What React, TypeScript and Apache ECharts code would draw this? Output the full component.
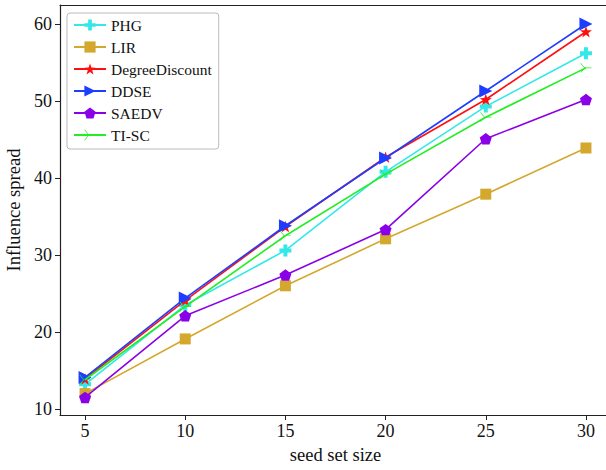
import React, { useEffect, useRef } from "react";
import * as echarts from "echarts";

const seedSizes = [5, 10, 15, 20, 25, 30];
const xTicks = [5, 10, 15, 20, 25, 30];
const yTicks = [10, 20, 30, 40, 50, 60];
const seriesNames = ["PHG", "LIR", "DegreeDiscount", "DDSE", "SAEDV", "TI-SC"];
const phg = [13.2, 23.5, 30.6, 40.8, 49.3, 56.2];
const lir = [12.0, 19.1, 26.0, 32.1, 37.9, 43.9];
const degreeDiscount = [13.9, 24.1, 33.7, 42.7, 50.2, 59.0];
const ddse = [14.1, 24.4, 33.8, 42.6, 51.3, 60.0];
const saedv = [11.5, 22.1, 27.4, 33.3, 45.1, 50.2];
const tisc = [13.8, 23.3, 32.5, 40.5, 47.9, 54.3];

const colors = ["#33e8e8", "#d4a82c", "#ff1010", "#1f3dff", "#8a00e8", "#22ee22"];

const SYM_PLUS = "path://M-1,-3L1,-3L1,-1L3,-1L3,1L1,1L1,3L-1,3L-1,1L-3,1L-3,-1L-1,-1Z";
const SYM_STAR =
  "path://M0,-10L2.35,-3.24L9.51,-3.09L3.8,1.24L5.88,8.09L0,4L-5.88,8.09L-3.8,1.24L-9.51,-3.09L-2.35,-3.24Z";
const SYM_TRI_RIGHT = "path://M0,0L10,5L0,10Z";
const SYM_PENTAGON = "path://M0,-10L9.51,-3.09L5.88,8.09L-5.88,8.09L-9.51,-3.09Z";
const SYM_TRI4 =
  "path://M-0.3,-0.4L8,-0.4L8,0.4L-0.3,0.4Z M0.3,0.3L-4.3,-4.9L-3.7,-5.5L0.6,-0.3Z M0.3,-0.3L-4.3,4.9L-3.7,5.5L0.6,0.3Z";

const symbols = [SYM_PLUS, "rect", SYM_STAR, SYM_TRI_RIGHT, SYM_PENTAGON, SYM_TRI4];
const symbolSizes = [12, 11, 12, 13, 12, 11];

export default function App() {
  const ref = useRef<HTMLDivElement>(null);
  useEffect(() => {
    if (!ref.current) return;
    const chart = echarts.init(ref.current, undefined, { renderer: "svg" });
    const data = [phg, lir, degreeDiscount, ddse, saedv, tisc];
    const font = "'Liberation Serif', 'Times New Roman', serif";
    chart.setOption({
      animation: false,
      backgroundColor: "#ffffff",
      textStyle: { fontFamily: font },
      grid: {
        left: 60,
        top: 5,
        right: 0,
        bottom: 55,
        containLabel: false,
        outerBoundsMode: "none",
        show: false,
      },
      legend: {
        orient: "vertical",
        left: 67,
        top: 13,
        data: seriesNames,
        itemWidth: 32,
        itemHeight: 14,
        itemGap: 6,
        padding: [4, 7, 6, 6],
        borderColor: "#bbbbbb",
        borderWidth: 1,
        borderRadius: 3,
        backgroundColor: "#ffffff",
        textStyle: { fontFamily: font, fontSize: 15.5, color: "#111" },
      },
      xAxis: [
        {
          type: "value",
          min: 3.75,
          max: 31.25,
          name: "seed set size",
          nameLocation: "middle",
          nameGap: 30,
          nameTextStyle: { fontFamily: font, fontSize: 18.5, color: "#111" },
          axisLine: { show: true, lineStyle: { color: "#222", width: 1.2 } },
          axisTick: { show: true, length: 5, lineStyle: { color: "#222" }, customValues: xTicks },
          axisLabel: { fontFamily: font, fontSize: 18, color: "#111", margin: 7, customValues: xTicks },
          splitLine: { show: false },
        },
        {
          type: "value",
          position: "top",
          min: 3.75,
          max: 31.25,
          axisLine: { show: true, lineStyle: { color: "#222", width: 1.2 } },
          axisTick: { show: false },
          axisLabel: { show: false },
          splitLine: { show: false },
        },
      ],
      yAxis: {
        type: "value",
        min: 9.22,
        max: 62.47,
        name: "Influence spread",
        nameLocation: "middle",
        nameGap: 35,
        nameTextStyle: { fontFamily: font, fontSize: 18.5, color: "#111" },
        axisLine: { show: true, lineStyle: { color: "#222", width: 1.2 } },
        axisTick: { show: true, length: 5, lineStyle: { color: "#222" }, customValues: yTicks },
        axisLabel: { fontFamily: font, fontSize: 18, color: "#111", margin: 8, customValues: yTicks },
        splitLine: { show: false },
      },
      series: seriesNames.map((name, i) => ({
        name,
        type: "line",
        xAxisIndex: 0,
        data: seedSizes.map((x, j) => [x, data[i][j]]),
        symbol: symbols[i],
        symbolSize: symbolSizes[i],
        symbolKeepAspect: true,
        showAllSymbol: true,
        color: colors[i],
        lineStyle: { width: 1.6, color: colors[i] },
        itemStyle: { color: colors[i], opacity: 1 },
        z: 2 + i,
      })),
    });
    return () => chart.dispose();
  }, []);
  return (
    <div style={{ position: "absolute", left: 0, top: 0, width: 606, height: 470, overflow: "hidden" }}>
      <div ref={ref} style={{ width: 611, height: 470 }} />
    </div>
  );
}
